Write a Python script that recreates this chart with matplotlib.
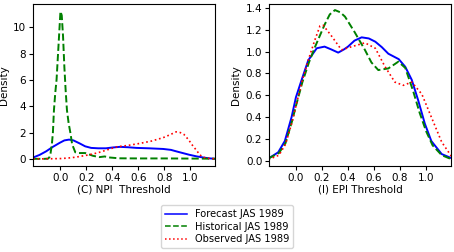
import matplotlib.pyplot as plt

# ------------------------------------------------------------
# densities (x, density)
# ------------------------------------------------------------

# panel (C) NPI threshold
npi_fc_x = [-0.21, -0.16, -0.11, -0.06, -0.005, 0.03, 0.066, 0.1, 0.148, 0.19, 0.236, 0.29, 0.35, 0.4, 0.457, 0.52,
            0.585, 0.68, 0.79, 0.85, 0.89, 0.94, 0.99, 1.05, 1.1, 1.14, 1.19]
npi_fc_y = [0.1, 0.3, 0.57, 0.9, 1.22, 1.4, 1.46, 1.4, 1.17, 0.95, 0.83, 0.8, 0.8, 0.86, 0.91, 0.88,
            0.83, 0.8, 0.75, 0.68, 0.57, 0.44, 0.31, 0.18, 0.1, 0.04, 0.0]

npi_hist_x = [-0.21, -0.12, -0.095, -0.085, -0.076, -0.066, -0.058, -0.05, -0.04, -0.03, -0.015, 0.0, 0.01,
              0.02, 0.03, 0.04, 0.05, 0.063, 0.076, 0.09, 0.114, 0.14, 0.19, 0.25, 0.3, 0.34, 0.38, 0.45,
              0.6, 0.8, 1.0, 1.19]
npi_hist_y = [0.0, 0.0, 0.02, 0.12, 0.43, 1.1, 2.0, 3.7, 5.0, 6.0, 8.6, 11.2, 10.9, 9.3, 7.0, 5.2, 3.7, 2.7, 2.0,
              1.1, 0.5, 0.44, 0.44, 0.23, 0.13, 0.18, 0.1, 0.04, 0.03, 0.03, 0.02, 0.01]

npi_obs_x = [-0.21, -0.1, 0.0, 0.06, 0.12, 0.2, 0.28, 0.35, 0.43, 0.52, 0.61, 0.7, 0.79, 0.84, 0.89, 0.92, 0.95,
             0.985, 1.02, 1.05, 1.07, 1.1, 1.12, 1.19]
npi_obs_y = [0.0, 0.0, 0.02, 0.06, 0.13, 0.27, 0.44, 0.65, 0.91, 1.02, 1.17, 1.35, 1.61, 1.82, 2.05, 2.0, 1.85,
             1.45, 0.96, 0.6, 0.31, 0.12, 0.05, 0.0]

# panel (I) EPI threshold
epi_fc_x = [-0.21, -0.136, -0.085, -0.033, 0.0, 0.044, 0.095, 0.16, 0.22, 0.27, 0.325, 0.37, 0.40, 0.45, 0.505,
            0.56, 0.61, 0.66, 0.71, 0.79, 0.84, 0.89, 0.94, 0.99, 1.04, 1.12, 1.2]
epi_fc_y = [0.02, 0.076, 0.18, 0.4, 0.58, 0.74, 0.92, 1.03, 1.045, 1.02, 0.99, 1.02, 1.045, 1.1, 1.13,
            1.12, 1.09, 1.04, 0.98, 0.93, 0.86, 0.74, 0.55, 0.34, 0.18, 0.06, 0.02]

epi_hist_x = [-0.21, -0.13, -0.08, -0.03, 0.0, 0.05, 0.1, 0.146, 0.22, 0.26, 0.30, 0.34, 0.377, 0.45, 0.53,
              0.58, 0.633, 0.71, 0.787, 0.84, 0.9, 0.95, 1.0, 1.05, 1.12, 1.2]
epi_hist_y = [0.02, 0.07, 0.16, 0.36, 0.5, 0.72, 0.9, 1.04, 1.245, 1.34, 1.38, 1.36, 1.32, 1.18, 1.015,
              0.9, 0.83, 0.845, 0.907, 0.85, 0.64, 0.44, 0.27, 0.14, 0.05, 0.01]

epi_obs_x = [-0.21, -0.13, -0.08, -0.03, 0.0, 0.05, 0.1, 0.146, 0.185, 0.21, 0.275, 0.35, 0.43, 0.53, 0.61,
             0.685, 0.76, 0.825, 0.89, 0.967, 1.04, 1.12, 1.2]
epi_obs_y = [0.01, 0.05, 0.15, 0.35, 0.5, 0.74, 0.94, 1.107, 1.235, 1.24, 1.14, 1.015, 1.045, 1.08, 1.03,
             0.86, 0.72, 0.69, 0.72, 0.61, 0.4, 0.17, 0.03]

labels = ["Forecast JAS 1989", "Historical JAS 1989", "Observed JAS 1989"]

# ------------------------------------------------------------
# figure
# ------------------------------------------------------------

plt.rcParams['font.size'] = 7.5

fig = plt.figure(figsize=(4.54, 2.52), dpi=100)
ax1 = fig.add_axes([0.073, 0.341, 0.401, 0.645])
ax2 = fig.add_axes([0.593, 0.341, 0.400, 0.645])

ax1.plot(npi_fc_x, npi_fc_y, color='blue', lw=1.4, label=labels[0])
ax1.plot(npi_hist_x, npi_hist_y, color='green', lw=1.4, ls='--', label=labels[1])
ax1.plot(npi_obs_x, npi_obs_y, color='red', lw=1.2, ls=':', label=labels[2])
ax1.set_xlim(-0.21, 1.19)
ax1.set_ylim(-0.55, 11.8)
ax1.set_xticks([0.0, 0.2, 0.4, 0.6, 0.8, 1.0])
ax1.set_yticks([0, 2, 4, 6, 8, 10])
ax1.set_xlabel("(C) NPI  Threshold", labelpad=1)
ax1.set_ylabel("Density", labelpad=3)

ax2.plot(epi_fc_x, epi_fc_y, color='blue', lw=1.4)
ax2.plot(epi_hist_x, epi_hist_y, color='green', lw=1.4, ls='--')
ax2.plot(epi_obs_x, epi_obs_y, color='red', lw=1.2, ls=':')
ax2.set_xlim(-0.205, 1.19)
ax2.set_ylim(-0.05, 1.44)
ax2.set_xticks([0.0, 0.2, 0.4, 0.6, 0.8, 1.0])
ax2.set_yticks([0.0, 0.2, 0.4, 0.6, 0.8, 1.0, 1.2, 1.4])
ax2.set_xlabel("(I) EPI Threshold", labelpad=1)
ax2.set_ylabel("Density", labelpad=3)

for ax in (ax1, ax2):
    ax.tick_params(length=3, pad=2)

leg = fig.legend(loc='upper center', bbox_to_anchor=(0.5, 0.205), fontsize=7.1,
                 handlelength=2.2, borderpad=0.4, labelspacing=0.25)
for line in leg.get_lines():
    line.set_linewidth(1.1)

fig.savefig("out.png", dpi=100)
